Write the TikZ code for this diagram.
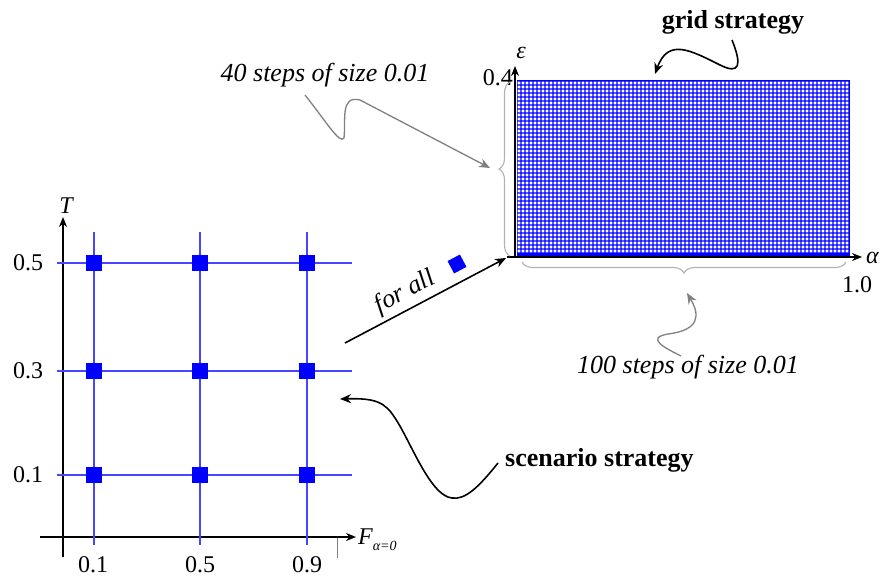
\documentclass[tikz,border=0pt]{standalone}
\usepackage{fontspec}
\setmainfont{Liberation Serif}
\usetikzlibrary{arrows.meta,decorations.pathreplacing}
\definecolor{lblue}{RGB}{70,70,255}
\begin{document}
\begin{tikzpicture}[x=1pt,y=-1pt,
  txt/.style={font=\fontsize{24}{26}\selectfont, inner sep=0pt},
  ital/.style={font=\fontsize{26}{28}\selectfont\itshape, inner sep=0pt},
  greek/.style={font=\fontsize{24}{26}\selectfont\itshape, inner sep=0pt},
  bold/.style={font=\fontsize{26}{28}\selectfont\bfseries, inner sep=0pt},
  axis/.style={black, line width=1.5pt, -{Stealth[length=10pt,width=8pt]}},
  gline/.style={lblue, line width=1.3pt},
  sq/.style={fill=blue, draw=none, minimum size=16pt, inner sep=0pt},
  grayarr/.style={gray, line width=1.3pt, -{Stealth[length=11pt,width=9pt]}},
  blackarr/.style={black, line width=1.6pt, -{Stealth[length=11pt,width=9pt]}},
  bracestyle/.style={gray!60, line width=1.1pt, decorate}
]
\useasboundingbox (0,0) rectangle (882,577);
\fill[white] (0,0) rectangle (882,577);

% ---------------- right: grid strategy ----------------
\fill[blue] (516.5,80.5) rectangle (849.5,255.5);
\fill[white] \foreach \i in {0,...,82} { \foreach \j in {0,...,42} { (517.7+4*\i,81.7+4*\j) rectangle ++(2.6,2.6) } };

\coordinate (eo) at (515,257);
\coordinate (etop) at (515,66);
\coordinate (aleft) at (507,257);
\coordinate (aend) at (862,257);
\draw[axis] (eo) -- (etop);
\draw[axis] (aleft) -- (aend);
\node[greek] (eps) at (521,53) {ε};
\node[txt, anchor=east] (l04) at (513,78) {0.4};
\node[greek, anchor=west] (alpha) at (866,258) {α};
\node[txt] (l10) at (857,285) {1.0};

% braces
\coordinate (b1a) at (510,256);
\coordinate (b1b) at (510,82);
\draw[bracestyle, decoration={brace, amplitude=11pt}] (b1a) -- (b1b);
\coordinate (b2a) at (522,262);
\coordinate (b2b) at (846,262);
\draw[bracestyle, decoration={brace, amplitude=11pt, mirror}] (b2a) -- (b2b);

\node[bold] (grid) at (733,22) {grid strategy};
\coordinate (g1) at (732,40);
\coordinate (g2) at (655,74);
\draw[blackarr] (g1) .. controls (742,65) and (740,75) .. (720,65)
  .. controls (690,50) and (668,38) .. (g2);

\node[ital] (s40) at (325,75) {40 steps of size 0.01};
\coordinate (s40a) at (305,95);
\coordinate (s40b) at (490,168);
\draw[grayarr] (s40a) .. controls (325,120) and (340,145) .. (344,138)
  .. controls (346,120) and (340,95) .. (360,100) -- (s40b);

\node[ital] (s100) at (688,367) {100 steps of size 0.01};
\coordinate (s100a) at (681,356);
\coordinate (s100b) at (687,293);
\draw[grayarr] (s100a) .. controls (665,348) and (645,338) .. (668,334)
  .. controls (700,330) and (700,315) .. (s100b);

% ---------------- for all ----------------
\coordinate (fa1) at (345,343);
\coordinate (fa2) at (506,258);
\draw[blackarr] (fa1) -- (fa2);
\node[ital, rotate=28, anchor=south] (forall) at (411,303) {for all};
\node[fill=blue, minimum size=14pt, inner sep=0pt, rotate=28] (fasq) at (457,264) {};

% ---------------- left: scenario strategy ----------------
\coordinate (to) at (63,557);
\coordinate (ttop) at (63,217);
\coordinate (fl) at (40,537);
\coordinate (fr) at (356,537);
\draw[axis] (to) -- (ttop);
\draw[axis] (fl) -- (fr);
\node[greek] (T) at (66,206) {T};
\node[anchor=west, inner sep=0pt] (F) at (358,540) {\fontsize{24}{26}\selectfont\itshape F\raisebox{-6pt}{\fontsize{14}{15}\selectfont α=0}};
\coordinate (tk1) at (337,538);
\coordinate (tk2) at (337,558);
\draw[gray, line width=1pt] (tk1) -- (tk2);

\foreach \x/\n in {94/a,200/b,307/c} {
  \coordinate (v\n1) at (\x,232);
  \coordinate (v\n2) at (\x,545);
  \draw[gline] (v\n1) -- (v\n2);
}
\foreach \y/\n in {263/a,371/b,475/c} {
  \coordinate (h\n1) at (57,\y);
  \coordinate (h\n2) at (352,\y);
  \draw[gline] (h\n1) -- (h\n2);
}
\foreach \x in {94,200,307} \foreach \y in {263,371,475}
  \node[sq] (p\x\y) at (\x,\y) {};

\node[txt] (y5) at (28,263) {0.5};
\node[txt] (y3) at (28,371) {0.3};
\node[txt] (y1) at (28,475) {0.1};
\node[txt, anchor=north] (x1) at (93,556) {0.1};
\node[txt, anchor=north] (x5) at (200,556) {0.5};
\node[txt, anchor=north] (x9) at (307,556) {0.9};

\node[bold, anchor=west] (scen) at (505,460) {scenario strategy};
\coordinate (sc1) at (498,463);
\coordinate (sc2) at (340,399);
\draw[blackarr] (sc1) .. controls (478,488) and (465,500) .. (452,498)
  .. controls (430,496) and (410,440) .. (395,418)
  .. controls (385,402) and (375,398) .. (sc2);
\end{tikzpicture}
\end{document}
